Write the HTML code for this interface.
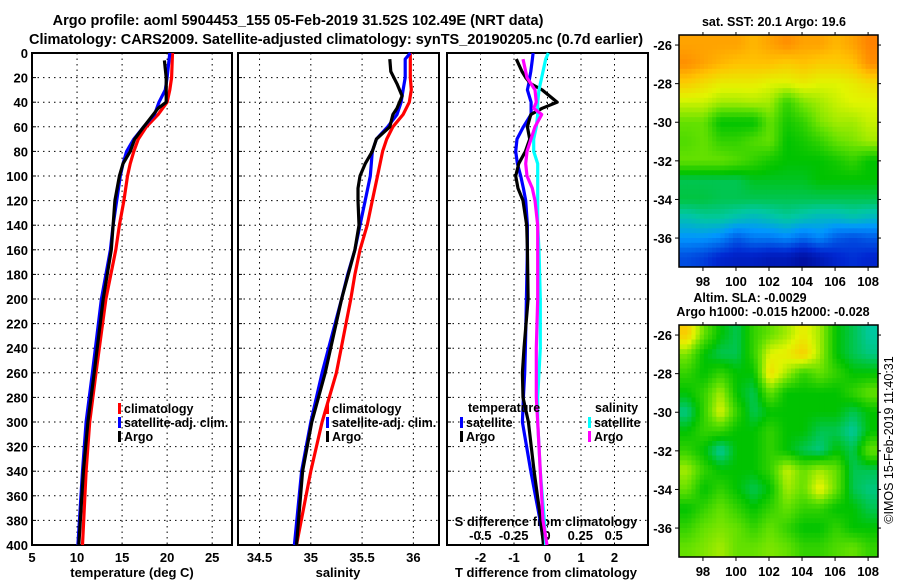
<!DOCTYPE html>
<html><head><meta charset="utf-8"><style>
body{margin:0;background:#fff;}
svg{display:block;font-family:"Liberation Sans",sans-serif;font-weight:bold;}
</style></head><body>
<svg id="c" width="900" height="580" viewBox="0 0 900 580"></svg>
<script>
// ---- data ----
const depths1 = [0,20,30,40,50,60,70,80,90,100,120,140,160,200,260,300,340,400];
const tempClim = [20.6,20.5,20.3,20.0,19.0,17.7,16.8,16.3,15.9,15.6,15.2,14.7,14.3,13.2,12.1,11.4,11.0,10.6];
const tempSat  = [20.3,20.0,19.8,19.1,18.6,17.4,16.3,15.5,15.1,14.8,14.4,14.0,13.7,12.7,11.7,11.0,10.6,10.1];
const depthsArgo = [6,20,40,45,60,70,80,90,100,120,140,160,200,260,300,340,400];
const tempArgo = [19.7,19.9,19.9,19.0,17.4,16.4,15.9,15.1,14.7,14.2,14.0,13.8,12.9,11.9,11.2,10.7,10.2];
const depthsS = [0,5,20,30,40,50,60,70,80,100,120,140,160,180,200,260,300,340,400];
const salClim = [35.97,35.97,35.97,35.98,35.96,35.9,35.8,35.74,35.7,35.65,35.6,35.55,35.48,35.43,35.39,35.25,35.11,35.0,34.86];
const salSat  = [35.97,35.92,35.92,35.9,35.88,35.84,35.75,35.64,35.6,35.58,35.53,35.48,35.43,35.36,35.3,35.11,35.0,34.91,34.84];
const depthsSA = [5,15,25,35,45,50,60,70,80,90,100,110,120,140,160,200,260,300,340,400];
const salArgo = [35.77,35.78,35.84,35.89,35.84,35.8,35.77,35.64,35.6,35.53,35.48,35.46,35.46,35.47,35.43,35.3,35.14,35.01,34.92,34.86];
const depthsD = [0,5,15,20,25,30,40,45,50,60,70,80,90,100,110,120,140,160,200,240,260,280,300,340,380,400];
const tdiffArgo = [null,-0.93,-0.76,-0.65,-0.5,-0.16,0.29,-0.16,-0.5,-0.6,-0.53,-0.66,-0.86,-0.95,-0.88,-0.73,-0.62,-0.6,-0.58,-0.7,-0.75,-0.73,-0.57,-0.4,-0.2,-0.12];
const tdiffSat  = [-0.43,-0.45,-0.5,-0.53,-0.56,-0.6,-0.49,-0.49,-0.49,-0.72,-0.91,-0.95,-0.9,-0.8,-0.72,-0.65,-0.6,-0.6,-0.63,-0.66,-0.68,-0.72,-0.75,-0.5,-0.22,-0.1];
const sdiffArgo = [null,-0.18,-0.16,-0.15,-0.12,-0.09,-0.08,-0.1,-0.04,-0.09,-0.12,-0.15,-0.16,-0.15,-0.11,-0.09,-0.07,-0.07,-0.07,-0.08,-0.08,-0.08,-0.07,-0.05,-0.03,0.0];
const sdiffSat  = [0.01,-0.01,-0.03,-0.04,-0.05,-0.06,-0.07,-0.07,-0.07,-0.08,-0.1,-0.1,-0.07,-0.07,-0.07,-0.07,-0.07,-0.06,-0.05,-0.05,-0.06,-0.07,-0.07,-0.05,-0.02,-0.01];
const depthTicks = [0,20,40,60,80,100,120,140,160,180,200,220,240,260,280,300,320,340,360,380,400];
const tempTicks = [5,10,15,20,25];
const salTicks = [34.5,35,35.5,36];
const tdTicks = [-2,-1,0,1,2];
const sdTicks = [-0.5,-0.25,0,0.25,0.5];
const sdTickLabels = ["-0.5","-0.25","0","0.25","0.5"];
const latTicks = [-26,-28,-30,-32,-34,-36];
const lonTicks = [98,100,102,104,106,108];
const sstGrid = [
[.85,.85,.85,.85,.82,.85,.88,.85,.85,.82,.85,.9],
[.88,.85,.82,.8,.8,.8,.78,.8,.78,.78,.8,.88],
[.78,.75,.72,.72,.72,.7,.7,.72,.7,.7,.72,.75],
[.68,.68,.65,.65,.66,.65,.55,.62,.65,.68,.7,.7],
[.6,.6,.5,.5,.5,.6,.52,.55,.62,.65,.65,.68],
[.58,.6,.55,.55,.58,.6,.5,.52,.55,.6,.62,.65],
[.6,.6,.6,.58,.55,.52,.5,.5,.5,.52,.55,.5],
[.45,.45,.45,.45,.48,.48,.48,.48,.5,.5,.5,.5],
[.46,.46,.45,.45,.45,.45,.45,.45,.45,.45,.45,.45],
[.38,.4,.4,.38,.36,.38,.4,.38,.36,.36,.38,.36],
[.3,.3,.28,.22,.26,.26,.28,.24,.28,.22,.2,.22],
[.2,.18,.14,.12,.12,.1,.1,.06,.1,.14,.16,.14]];
const slaGrid = [
[.78,.6,.5,.45,.55,.6,.65,.72,.65,.5,.45,.4],
[.62,.5,.45,.45,.55,.7,.72,.78,.65,.5,.45,.42],
[.55,.5,.55,.5,.5,.75,.65,.55,.6,.55,.5,.5],
[.5,.55,.65,.5,.45,.6,.5,.5,.5,.5,.55,.6],
[.42,.55,.7,.55,.45,.5,.5,.5,.5,.5,.45,.5],
[.5,.55,.55,.5,.5,.55,.5,.5,.45,.45,.4,.5],
[.55,.5,.4,.5,.5,.55,.5,.45,.42,.5,.45,.6],
[.65,.55,.5,.5,.5,.55,.68,.6,.65,.6,.45,.45],
[.6,.5,.55,.5,.45,.5,.65,.6,.72,.6,.45,.42],
[.5,.55,.6,.55,.5,.55,.6,.55,.55,.5,.5,.45],
[.55,.6,.62,.6,.55,.6,.55,.5,.5,.55,.5,.5],
[.6,.62,.65,.6,.6,.62,.6,.55,.55,.58,.6,.55]];

// ---- helpers ----
const NS="http://www.w3.org/2000/svg", svgRoot=document.getElementById('c');
function el(tag,attrs,parent){const e=document.createElementNS(NS,tag);for(const k in attrs)e.setAttribute(k,attrs[k]);(parent||svgRoot).appendChild(e);return e;}
function txt(x,y,s,size,anchor,parent){const e=el('text',{x:x,y:y,'font-size':size,'text-anchor':anchor||'middle',fill:'#000'},parent);e.textContent=s;return e;}
const yTop=53,yBot=545;
const yD=d=>yTop+(d/400)*(yBot-yTop);
function lin(d0,d1,r0,r1){return v=>r0+(v-d0)/(d1-d0)*(r1-r0);}
const panels=[{x0:32,x1:232},{x0:238,x1:439},{x0:447,x1:648}];
const xT=lin(5,27.2,32,232), xS=lin(34.29,36.25,238,439), xTD=lin(-3,3,447,648), xSD=v=>547+v*133.3;

panels.forEach((p,i)=>{
  const g=el('g',{});
  
  
  depthTicks.forEach(d=>{ if(d>0&&d<400) el('line',{x1:p.x0,x2:p.x1,y1:yD(d),y2:yD(d),stroke:'#000','stroke-dasharray':'1.5,4'},g);
    el('line',{x1:p.x0,x2:p.x0+4,y1:yD(d),y2:yD(d),stroke:'#000'},g);});
  const xt = i==0?tempTicks.map(xT):i==1?salTicks.map(xS):tdTicks.map(xTD);
  xt.forEach(x=>el('line',{x1:x,x2:x,y1:yTop,y2:yBot,stroke:'#000','stroke-dasharray':'1.5,4'},g));
  el('rect',{x:p.x0,y:yTop,width:p.x1-p.x0,height:yBot-yTop,fill:'none',stroke:'#000','stroke-width':2},g);
});
depthTicks.forEach(d=>{const e=txt(28,yD(d)+5,String(d),13,'end');});
tempTicks.forEach(v=>txt(xT(v),562,String(v),13));
salTicks.forEach(v=>txt(xS(v),562,String(v),13));
tdTicks.forEach(v=>txt(xTD(v),562,String(v),13));
sdTicks.forEach((v,i)=>txt(xSD(v),540,sdTickLabels[i],13));
let tt;
tt=txt(132,577,'temperature (deg C)',13);
tt=txt(338,577,'salinity',13);
tt=txt(546,577,'T difference from climatology',13);
tt=txt(546,526,'S difference from climatology',13);
tt=txt(298,25,'Argo profile: aoml 5904453_155 05-Feb-2019 31.52S 102.49E (NRT data)',14.5);
tt=txt(336,44,'Climatology: CARS2009. Satellite-adjusted climatology: synTS_20190205.nc (0.7d earlier)',14.5);

function series(ds,vals,xf,color,name){
  const pts=[];ds.forEach((d,i)=>{if(vals[i]!==null)pts.push(xf(vals[i]).toFixed(1)+','+yD(d).toFixed(1));});
  const pl=el('polyline',{points:pts.join(' '),fill:'none',stroke:color,'stroke-width':3.2,'stroke-linejoin':'round'});
  
}
series(depths1,tempClim,xT,'#ff0000','temp-climatology-line');
series(depths1,tempSat,xT,'#0000ff','temp-satellite-line');
series(depthsArgo,tempArgo,xT,'#000000','temp-argo-line');
series(depthsS,salClim,xS,'#ff0000','sal-climatology-line');
series(depthsS,salSat,xS,'#0000ff','sal-satellite-line');
series(depthsSA,salArgo,xS,'#000000','sal-argo-line');
series(depthsD,tdiffSat,xTD,'#0000ff','tdiff-satellite-line');
series(depthsD,tdiffArgo,xTD,'#000000','tdiff-argo-line');
series(depthsD,sdiffSat,xSD,'#00ffff','sdiff-satellite-line');
series(depthsD,sdiffArgo,xSD,'#ff00ff','sdiff-argo-line');

function legend(x,y,color,label,name){
  const g=el('g',{});
  el('rect',{x:x,y:y-9,width:3,height:11,fill:color},g);txt(x+6,y+1,label,12.5,'start',g);
}
legend(118,412,'#ff0000','climatology','legend-climatology');
legend(118,426,'#0000ff','satellite-adj. clim.','legend-satellite-adj');
legend(118,440,'#000000','Argo','legend-argo');
legend(326,412,'#ff0000','climatology','legend-sal-climatology');
legend(326,426,'#0000ff','satellite-adj. clim.','legend-sal-satellite');
legend(326,440,'#000000','Argo','legend-sal-argo');
tt=txt(468,412,'temperature',12.5,'start');
tt=txt(595,412,'salinity',12.5,'start');
legend(460,426,'#0000ff','satellite','legend-tdiff-satellite');
legend(460,440,'#000000','Argo','legend-tdiff-argo');
legend(588,426,'#00ffff','satellite','legend-sdiff-satellite');
legend(588,440,'#ff00ff','Argo','legend-sdiff-argo');

const cstops=[[0,[0,0,128]],[.15,[0,40,210]],[.3,[0,150,255]],[.4,[0,200,160]],[.5,[0,195,0]],[.6,[100,225,0]],[.7,[225,245,0]],[.8,[255,195,0]],[.9,[255,130,0]],[1,[225,60,0]]];
function cmap(v){for(let i=1;i<cstops.length;i++){if(v<=cstops[i][0]){const a=cstops[i-1],b=cstops[i],f=(v-a[0])/(b[0]-a[0]);return 'rgb('+a[1].map((c,k)=>Math.round(c+(b[1][k]-c)*f)).join(',')+')';}}return 'rgb(225,60,0)';}
function sample(grid,r,c){const nr=grid.length,nc=grid[0].length;
  r=Math.max(0,Math.min(nr-1,r));c=Math.max(0,Math.min(nc-1,c));
  const r0=Math.floor(r),c0=Math.floor(c),r1=Math.min(nr-1,r0+1),c1=Math.min(nc-1,c0+1),fr=r-r0,fc=c-c0;
  return grid[r0][c0]*(1-fr)*(1-fc)+grid[r0][c1]*(1-fr)*fc+grid[r1][c0]*fr*(1-fc)+grid[r1][c1]*fr*fc;}
const mx0=679,mx1=878;
const xLon=lin(96.55,108.6,mx0,mx1);
function drawMap(y0,y1,grid,name){
  const g=el('g',{});
  const yLat=lin(-25.48,-37.5,y0,y1);
  const sub=4,nr=grid.length*sub,nc=grid[0].length*sub,cw=(mx1-mx0)/nc,ch=(y1-y0)/nr;
  for(let r=0;r<nr;r++)for(let c=0;c<nc;c++){
    const v=sample(grid,(r+0.5)/sub-0.5,(c+0.5)/sub-0.5);
    const cell=el('rect',{x:(mx0+c*cw).toFixed(2),y:(y0+r*ch).toFixed(2),width:(cw+0.5).toFixed(2),height:(ch+0.5).toFixed(2),fill:cmap(v)},g);
    
    
  }
  el('rect',{x:mx0,y:y0,width:mx1-mx0,height:y1-y0,fill:'none',stroke:'#000','stroke-width':1.5},g);
  latTicks.forEach(l=>{const y=yLat(l);el('line',{x1:mx0,x2:mx0-4,y1:y,y2:y,stroke:'#000'},g);el('line',{x1:mx1,x2:mx1+3,y1:y,y2:y,stroke:'#000'},g);txt(672,y+5,String(l),13,'end',g);});
  lonTicks.forEach(l=>{const x=xLon(l);el('line',{x1:x,x2:x,y1:y1,y2:y1+4,stroke:'#000'},g);el('line',{x1:x,x2:x,y1:y0,y2:y0-3,stroke:'#000'},g);txt(x,y1+19,String(l),13,'middle',g);});
}
drawMap(35,267,sstGrid,'sst-map');
drawMap(325,557,slaGrid,'sla-map');
tt=txt(774,26,'sat. SST: 20.1 Argo: 19.6',12.5);
tt=txt(750,302,'Altim. SLA: -0.0029',12.5);
tt=txt(773,316,'Argo h1000: -0.015 h2000: -0.028',12.5);
tt=txt(0,0,'©IMOS 15-Feb-2019 11:40:31',12.5);tt.setAttribute('font-weight','normal');
tt.setAttribute('transform','translate(893,440) rotate(-90)');


</script>
</body></html>
